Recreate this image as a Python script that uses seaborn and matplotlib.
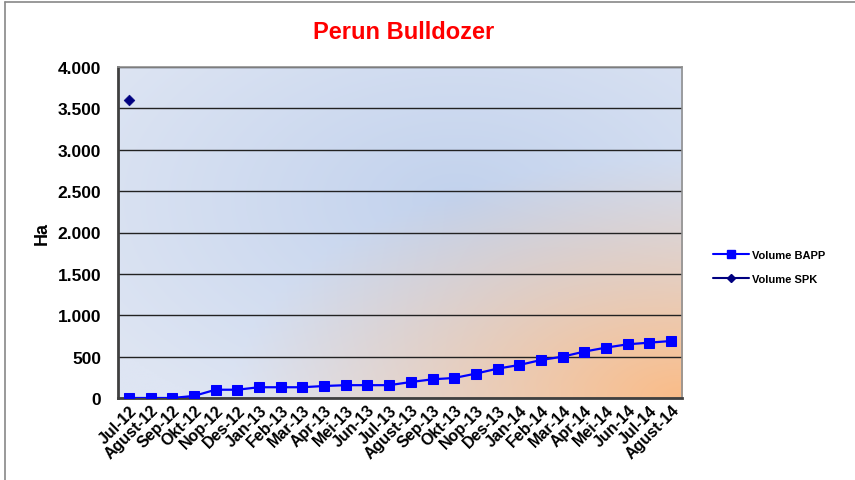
import numpy as np
import pandas as pd
import matplotlib
matplotlib.use("Agg")
import matplotlib.pyplot as plt
from matplotlib.lines import Line2D
from matplotlib.ticker import FuncFormatter
import seaborn as sns

# Data
months = ["Jul-12", "Agust-12", "Sep-12", "Okt-12", "Nop-12", "Des-12",
          "Jan-13", "Feb-13", "Mar-13", "Apr-13", "Mei-13", "Jun-13",
          "Jul-13", "Agust-13", "Sep-13", "Okt-13", "Nop-13", "Des-13",
          "Jan-14", "Feb-14", "Mar-14", "Apr-14", "Mei-14", "Jun-14",
          "Jul-14", "Agust-14"]
volume_bapp = [0, 0, 0, 25, 100, 100, 130, 130, 130, 145, 155, 155, 155,
               193, 226, 242, 295, 355, 399, 459, 500, 561, 609, 649, 669, 689]
volume_spk = [3600]
spk_months = ["Jul-12"]

df = pd.DataFrame({"month": months, "BAPP": volume_bapp})
df_spk = pd.DataFrame({"month": spk_months, "SPK": volume_spk})

sns.set_style("white", {"text.color": "black", "xtick.color": "black",
                        "ytick.color": "black", "axes.labelcolor": "black"})
plt.rcParams["font.family"] = ["Liberation Sans", "DejaVu Sans"]

fig = plt.figure(figsize=(8.55, 4.81), dpi=100)
ax = fig.add_axes([118 / 855, 1 - 399 / 481, 564 / 855, 331 / 481])

# Gradient background (blue, fading to orange at bottom right)
h, w = 200, 340
u, v = np.meshgrid(np.linspace(0, 1, w), np.linspace(1, 0, h))
light = np.array([222, 229, 243]) / 255
mid = np.array([194, 210, 237]) / 255
orange = np.array([250, 188, 136]) / 255
d = np.clip(np.hypot((u - 0.6) / 1.0, (v - 0.6) / 1.0) / 0.75, 0, 1)
base = mid + (light - mid) * d[..., None]
wgt = np.clip(1 - np.hypot(1 - u, v * 1.1) / 0.8, 0, 1) ** 1.1
img = base * (1 - wgt[..., None]) + orange * wgt[..., None]
ax.imshow(img, extent=[0, 1, 0, 1], transform=ax.transAxes, aspect="auto",
          zorder=0, interpolation="bilinear")

sns.lineplot(data=df, x="month", y="BAPP", ax=ax, sort=False, color="#0000FF",
             marker="s", markersize=7.5, markeredgecolor="#0000FF",
             linewidth=1.6, zorder=3)
sns.scatterplot(data=df_spk, x="month", y="SPK", ax=ax, color="#000080",
                marker="D", s=30, edgecolor="#000080", zorder=3)

ax.set_xlim(-0.5, len(months) - 0.5)
ax.set_ylim(0, 4000)
ax.set_yticks(np.arange(0, 4001, 500))
ax.yaxis.set_major_formatter(FuncFormatter(lambda x, p: f"{int(x):,}".replace(",", ".")))
ax.grid(axis="y", color="#222222", linewidth=1.0, zorder=1)
ax.set_axisbelow(True)
ax.set_xticks(range(len(months)))
ax.set_xticklabels(months, rotation=45, ha="right", rotation_mode="anchor",
                   fontsize=11.5, fontweight="bold", color="black")
for t in ax.get_yticklabels():
    t.set_fontweight("bold")
    t.set_fontsize(12.5)
    t.set_color("black")
ax.tick_params(axis="y", length=0, pad=12)
ax.tick_params(axis="x", length=0, pad=3)
ax.set_xlabel("")
ax.set_ylabel("Ha", fontsize=13, fontweight="bold", labelpad=5, color="black")

for side in ["top", "right"]:
    ax.spines[side].set_color("#909090")
    ax.spines[side].set_linewidth(1.2)
for side in ["left", "bottom"]:
    ax.spines[side].set_color("#404040")
    ax.spines[side].set_linewidth(2)

handles = [
    Line2D([], [], color="#0000FF", marker="s", markersize=6, linewidth=1.5),
    Line2D([], [], color="#000080", marker="D", markersize=4, linewidth=1.5),
]
leg = fig.legend(handles, ["Volume BAPP", "Volume SPK"], loc="center left",
                 bbox_to_anchor=(703 / 855, 1 - 268 / 481), frameon=False,
                 prop={"weight": "bold", "size": 8}, handlelength=3.2,
                 handletextpad=0.3, labelspacing=1.2)
for t in leg.get_texts():
    t.set_color("black")

fig.text(404 / 855, 1 - 33 / 481, "Perun Bulldozer", color="#FF0000",
         fontsize=17, fontweight="bold", ha="center", va="center")

# outer chart border (left and top edges visible)
fig.add_artist(Line2D([5 / 855, 5 / 855], [0, 1 - 3 / 481], color="#888888",
                      linewidth=1.2, transform=fig.transFigure))
fig.add_artist(Line2D([5 / 855, 1], [1 - 3 / 481, 1 - 3 / 481], color="#888888",
                      linewidth=1.2, transform=fig.transFigure))

fig.savefig("out.png", dpi=100)
